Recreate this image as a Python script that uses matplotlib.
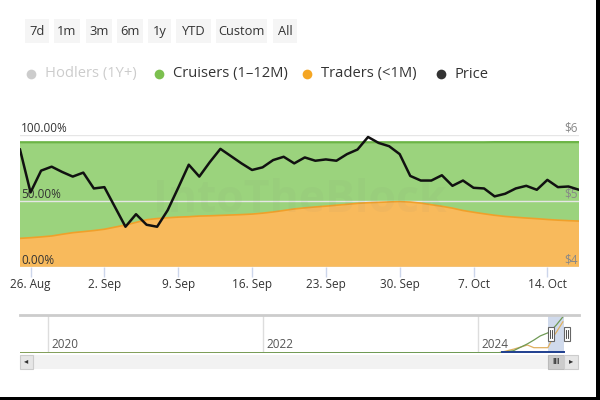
import pandas as pd
import matplotlib
matplotlib.use('Agg')
import matplotlib.pyplot as plt
from matplotlib.patches import Rectangle

plt.rcParams['font.family'] = ['Open Sans', 'DejaVu Sans']

# daily data, 25 Aug - 17 Oct 2024
dates = pd.date_range('2024-08-25', '2024-10-17', freq='D')
traders = [21.7, 22.2, 22.8, 23.5, 24.8, 26.0, 26.8, 27.6, 28.6, 30.2,
           31.8, 33.8, 35.8, 36.7, 37.3, 37.8, 38.1, 38.6, 38.8, 39.1,
           39.4, 39.7, 40.1, 40.8, 41.7, 42.8, 44.0, 44.8, 45.5, 46.1,
           46.8, 47.5, 48.2, 48.7, 49.0, 49.3, 49.5, 49.2, 48.4, 47.2,
           46.0, 44.6, 42.8, 41.5, 40.3, 39.2, 38.3, 37.7, 37.1, 36.6,
           36.0, 35.5, 35.1, 34.8]
cruisers = [72.8, 72.3, 71.7, 71.0, 69.7, 68.5, 67.7, 66.9, 65.9, 64.3,
            62.7, 60.7, 58.7, 57.8, 57.2, 56.7, 56.4, 55.9, 55.7, 55.4,
            55.1, 54.8, 54.4, 53.7, 52.8, 51.7, 50.5, 49.7, 49.0, 48.4,
            47.7, 47.0, 46.3, 45.8, 45.5, 45.2, 45.0, 45.3, 46.1, 47.3,
            48.5, 49.9, 51.7, 53.0, 54.2, 55.4, 56.3, 56.9, 57.5, 58.0,
            58.6, 59.1, 59.5, 59.8]
price = [5.78, 5.13, 5.46, 5.52, 5.44, 5.37, 5.43, 5.19, 5.21, 4.91,
         4.61, 4.80, 4.64, 4.61, 4.86, 5.20, 5.55, 5.37, 5.59, 5.79,
         5.68, 5.57, 5.47, 5.51, 5.62, 5.67, 5.57, 5.66, 5.61, 5.63,
         5.61, 5.71, 5.78, 5.97, 5.88, 5.83, 5.71, 5.38, 5.31, 5.31,
         5.39, 5.23, 5.31, 5.20, 5.19, 5.07, 5.11, 5.19, 5.23, 5.17,
         5.32, 5.21, 5.22, 5.17]

tick_dates = pd.to_datetime(['2024-08-26', '2024-09-02', '2024-09-09', '2024-09-16',
                             '2024-09-23', '2024-09-30', '2024-10-07', '2024-10-14'])
tick_labels = ['26. Aug', '2. Sep', '9. Sep', '16. Sep', '23. Sep', '30. Sep', '7. Oct', '14. Oct']

pct_ticks = [0, 50, 100]
pct_labels = ['0.00%', '50.00%', '100.00%']
price_ticks = [4, 5, 6]
price_labels = ['$4', '$5', '$6']

buttons = ['7d', '1m', '3m', '6m', '1y', 'YTD', 'Custom', 'All']
legend_names = ['Hodlers (1Y+)', 'Cruisers (1\u201312M)', 'Traders (<1M)', 'Price']
legend_colors = ['#cccccc', '#7cc04f', '#f5a623', '#333333']

# navigator (overview of whole history), relative heights
nav_years = [2019.74, 2021.0, 2022.0, 2023.0, 2024.2, 2024.33, 2024.46, 2024.52,
             2024.58, 2024.65, 2024.71, 2024.73, 2024.79]
nav_cruisers = [0.005, 0.005, 0.008, 0.01, 0.01, 0.06, 0.24, 0.34, 0.45, 0.53, 0.68, 0.74, 0.95]
nav_traders = [0.005, 0.005, 0.006, 0.008, 0.01, 0.10, 0.21, 0.14, 0.14, 0.14, 0.47, 0.55, 0.82]
nav_price_years = [2024.22, 2024.80]
nav_price = [0.03, 0.03]

GREEN = '#9bd37d'
GREEN_LINE = '#6cb446'
ORANGE = '#f8ba5c'
ORANGE_LINE = '#f0a02a'

fig = plt.figure(figsize=(6, 4), dpi=100)


def px(x0, y0, x1, y1):
    # figure rect from pixel box (top-left origin)
    return [x0 / 600, 1 - y1 / 400, (x1 - x0) / 600, (y1 - y0) / 400]


# decoration layer in pixel coordinates
deco = fig.add_axes([0, 0, 1, 1], zorder=0)
deco.set_xlim(0, 600)
deco.set_ylim(400, 0)
deco.axis('off')

btn_x = [25, 54, 86, 117, 148, 176, 216, 273]
btn_w = [24, 26, 26, 26, 23, 35, 51, 24]
for name, bx, bw in zip(buttons, btn_x, btn_w):
    deco.add_patch(Rectangle((bx, 19), bw, 24, facecolor='#f5f5f5', edgecolor='none'))
    deco.text(bx + bw / 2, 31.5, name, ha='center', va='center', fontsize=9.3, color='#333333')

leg_x = [31, 159, 307, 441]
for name, lx, c in zip(legend_names, leg_x, legend_colors):
    deco.plot(lx, 74, 'o', color=c, markersize=7, markeredgewidth=0)
    deco.text(lx + 14, 74, name, ha='left', va='center', fontsize=10.6,
              color='#cccccc' if name.startswith('Hodlers') else '#333333')

# scrollbar
deco.add_patch(Rectangle((20, 355), 558, 14, facecolor='#f2f2f2', edgecolor='none'))
deco.add_patch(Rectangle((20, 355), 13, 14, facecolor='#e6e6e6', edgecolor='#cccccc', lw=0.8))
deco.text(26.5, 362, '\u25c2', ha='center', va='center', fontsize=6, color='#333333')
deco.add_patch(Rectangle((548, 355), 16, 14, facecolor='#cccccc', edgecolor='#bbbbbb', lw=0.8))
deco.text(556, 362, 'III', ha='center', va='center', fontsize=5.5, color='#333333', weight='bold')
deco.add_patch(Rectangle((564, 355), 14, 14, facecolor='#e6e6e6', edgecolor='#cccccc', lw=0.8))
deco.text(571, 362, '\u25b8', ha='center', va='center', fontsize=6, color='#333333')

# black frame edges of the screenshot
deco.add_patch(Rectangle((596, 0), 4, 400, facecolor='black', edgecolor='none'))
deco.add_patch(Rectangle((0, 397), 600, 3, facecolor='black', edgecolor='none'))

# main chart
ax = fig.add_axes(px(20, 135, 579, 267), zorder=2)
ax.stackplot(dates, traders, cruisers, colors=[ORANGE, GREEN], lw=0)
top = [t + c for t, c in zip(traders, cruisers)]
ax.plot(dates, traders, color=ORANGE_LINE, lw=1.2)
ax.plot(dates, top, color=GREEN_LINE, lw=1.6)
ax.set_xlim(dates[0], dates[-1])
ax.set_ylim(0, 100)
for s in ax.spines.values():
    s.set_visible(False)
ax.set_yticks(pct_ticks)
ax.set_yticklabels(pct_labels)
ax.tick_params(axis='y', length=0, pad=-1, labelsize=8.5, labelcolor='#333333')
for lab in ax.get_yticklabels():
    lab.set_ha('left')
    lab.set_va('bottom')
ax.grid(axis='y', color='#e6e6e6', lw=1)
ax.set_xticks(tick_dates)
ax.set_xticklabels(tick_labels)
ax.tick_params(axis='x', length=7.2, width=1, color='#ccd6eb', pad=1, labelsize=8.5,
               labelcolor='#333333')
ax.text(0.5, 0.5, 'IntoTheBlock', transform=ax.transAxes, ha='center', va='center',
        fontsize=32, weight='bold', color='#777777', alpha=0.05)

ax2 = ax.twinx()
ax2.plot(dates, price, color='#111111', lw=1.8)
ax2.set_ylim(4, 6)
for s in ax2.spines.values():
    s.set_visible(False)
ax2.set_yticks(price_ticks)
ax2.set_yticklabels(price_labels)
ax2.tick_params(axis='y', length=0, pad=-1, labelsize=8.5, labelcolor='#888888')
for lab in ax2.get_yticklabels():
    lab.set_ha('right')
    lab.set_va('bottom')

# navigator
nav = fig.add_axes(px(20, 315, 579, 353), zorder=1)
nav.set_xlim(2019.74, 2024.94)
nav.set_ylim(0, 1)
for s in nav.spines.values():
    s.set_visible(False)
nav.spines['top'].set_visible(True)
nav.spines['top'].set_color('#cccccc')
nav.spines['top'].set_linewidth(2)
nav.set_yticks([])
nav.set_xticks([2020, 2022, 2024])
nav.set_xticklabels([])
nav.tick_params(axis='x', length=0)
nav.grid(axis='x', color='#dddddd', lw=1)
for yr in [2020, 2022, 2024]:
    nav.text(yr + 0.03, 0.04, str(yr), ha='left', va='bottom', fontsize=8.5, color='#555555')
nav.plot(nav_years, nav_traders, color='#e0b060', lw=0.9)
nav.plot(nav_years, nav_cruisers, color='#6f9a55', lw=0.9)
nav.plot(nav_price_years, nav_price, color='#1f3f8f', lw=1.4)
nav.axvspan(2024.65, 2024.80, color='#6685c2', alpha=0.3, lw=0)
for hx in [2024.65, 2024.80]:
    nav.add_patch(Rectangle((hx, 0.32), 0.06, 0.36, facecolor='white', edgecolor='#666666',
                            lw=0.8, zorder=5))
    nav.plot([hx + 0.022, hx + 0.022], [0.4, 0.6], color='#333333', lw=0.6, zorder=6)
    nav.plot([hx + 0.038, hx + 0.038], [0.4, 0.6], color='#333333', lw=0.6, zorder=6)

fig.savefig('out.png', dpi=100)
